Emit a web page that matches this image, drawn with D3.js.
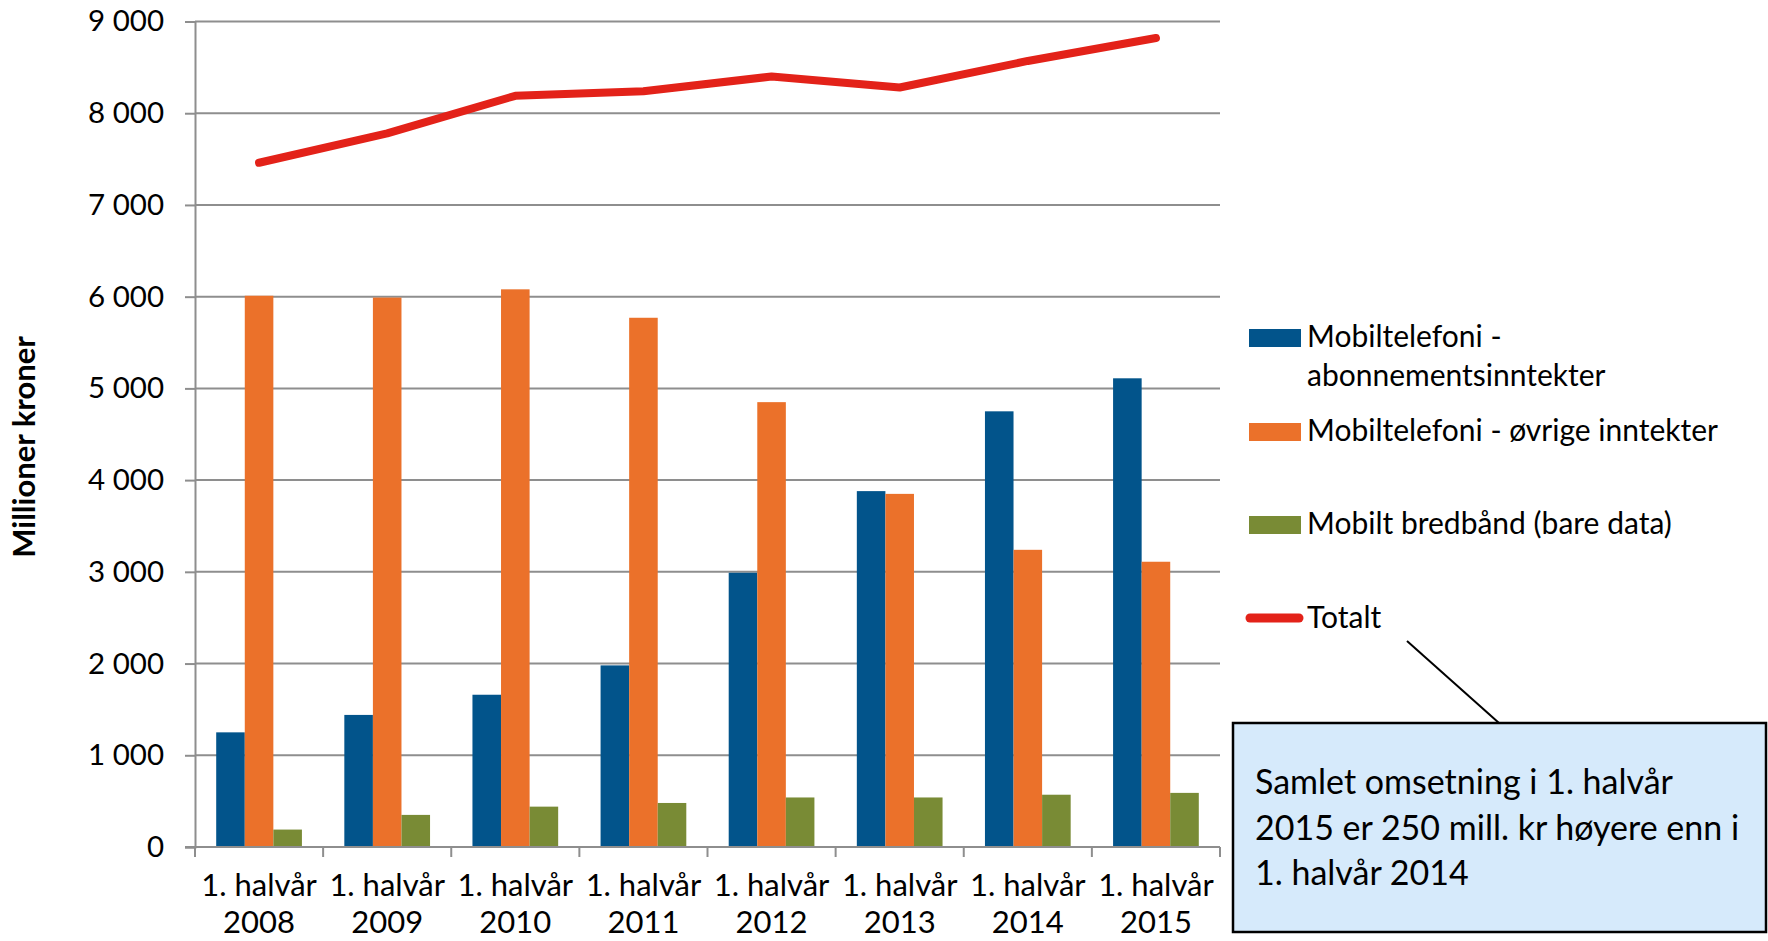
<!DOCTYPE html>
<html>
<head>
<meta charset="utf-8">
<script src="https://cdn.jsdelivr.net/npm/d3@7"></script>
<style>
  body { margin: 0; background: #fff; }
  svg text { font-family: Lato, "Open Sans", sans-serif; fill: #000; }
</style>
</head>
<body>
<svg id="chart" width="1768" height="941"></svg>
<script>
// ---- data ----
const categories = ["2008", "2009", "2010", "2011", "2012", "2013", "2014", "2015"];
const categoryPrefix = "1. halvår";
const abonnement = [1250, 1440, 1660, 1980, 2990, 3880, 4750, 5110];
const ovrige = [6010, 5990, 6080, 5770, 4850, 3850, 3240, 3110];
const bredband = [190, 350, 440, 480, 540, 540, 570, 590];
const totalt = [7460, 7780, 8190, 8240, 8400, 8280, 8570, 8820];
const yTicks = [0, 1000, 2000, 3000, 4000, 5000, 6000, 7000, 8000, 9000];
const barSeriesNames = ["Mobiltelefoni - abonnementsinntekter", "Mobiltelefoni - øvrige inntekter", "Mobilt bredbånd (bare data)"];
const lineSeriesName = "Totalt";
const yTitle = "Millioner kroner";
const calloutLines = ["Samlet omsetning i 1. halvår", "2015 er 250 mill. kr høyere enn i", "1. halvår 2014"];

// ---- layout ----
const colors = ["#02548B", "#EB712A", "#798B35"];
const lineColor = "#E32219";
const gridColor = "#8E8E8E";
const plot = { left: 195, right: 1220, top: 21.5, bottom: 847 };

const svg = d3.select("#chart");

const x = d3.scaleBand().domain(categories).range([plot.left, plot.right]).paddingInner(0).paddingOuter(0);
const xs = d3.scaleBand().domain([0, 1, 2]).range([0, x.bandwidth()]).paddingInner(0).paddingOuter(0.742);
const y = d3.scaleLinear().domain([0, 9000]).range([plot.bottom, plot.top]);

const locale = d3.formatLocale({ decimal: ",", thousands: "\u00a0", grouping: [3], currency: ["", ""] });
const fmt = locale.format(",d");

// gridlines
svg.append("g")
  .selectAll("line")
  .data(yTicks.filter(d => d > 0))
  .join("line")
  .attr("x1", plot.left).attr("x2", plot.right)
  .attr("y1", d => y(d)).attr("y2", d => y(d))
  .attr("stroke", gridColor).attr("stroke-width", 2);

// y axis
const yAxis = svg.append("g")
  .attr("transform", `translate(${plot.left},0)`)
  .call(d3.axisLeft(y).tickValues(yTicks).tickSize(10).tickPadding(21).tickFormat(fmt));
yAxis.select(".domain").attr("stroke", gridColor).attr("stroke-width", 2);
yAxis.selectAll(".tick line").attr("stroke", gridColor).attr("stroke-width", 2);
yAxis.selectAll(".tick text").attr("font-size", 29.5).attr("font-family", "Lato").attr("fill", "#000");

// bars
const barData = [abonnement, ovrige, bredband];
barData.forEach((vals, si) => {
  svg.append("g")
    .selectAll("rect")
    .data(vals)
    .join("rect")
    .attr("x", (d, i) => x(categories[i]) + xs(si))
    .attr("width", xs.bandwidth())
    .attr("y", d => y(d))
    .attr("height", d => y(0) - y(d))
    .attr("fill", colors[si]);
});

// x axis
const xAxisG = svg.append("g").attr("transform", `translate(0,${plot.bottom})`);
xAxisG.append("line")
  .attr("x1", plot.left - 10).attr("x2", plot.right)
  .attr("stroke", gridColor).attr("stroke-width", 2);
const boundaries = categories.map(c => x(c)).concat([x(categories[categories.length - 1]) + x.bandwidth()]);
xAxisG.selectAll("line.tk")
  .data(boundaries)
  .join("line").attr("class", "tk")
  .attr("x1", d => d).attr("x2", d => d)
  .attr("y1", 0).attr("y2", 10)
  .attr("stroke", gridColor).attr("stroke-width", 2);
const lbl = xAxisG.selectAll("text.xl")
  .data(categories)
  .join("text").attr("class", "xl")
  .attr("text-anchor", "middle")
  .attr("font-size", 31);
lbl.append("tspan").attr("x", d => x(d) + x.bandwidth() / 2).attr("y", 49).text(categoryPrefix);
lbl.append("tspan").attr("x", d => x(d) + x.bandwidth() / 2).attr("y", 86).text(d => d);

// total line
const line = d3.line()
  .x((d, i) => x(categories[i]) + x.bandwidth() / 2)
  .y(d => y(d));
svg.append("path")
  .datum(totalt)
  .attr("d", line)
  .attr("fill", "none")
  .attr("stroke", lineColor)
  .attr("stroke-width", 8)
  .attr("stroke-linecap", "round")
  .attr("stroke-linejoin", "round");

// y title
svg.append("text")
  .attr("transform", "translate(35,447) rotate(-90)")
  .attr("text-anchor", "middle")
  .attr("font-size", 31)
  .attr("font-weight", "bold")
  .text(yTitle);

// legend
const lg = svg.append("g");
const legendY = [338, 432, 525];
const legendText = [["Mobiltelefoni -", "abonnementsinntekter"], ["Mobiltelefoni - øvrige inntekter"], ["Mobilt bredbånd (bare data)"]];
barSeriesNames.forEach((name, i) => {
  lg.append("rect").attr("x", 1249).attr("y", legendY[i] - 9).attr("width", 52).attr("height", 18).attr("fill", colors[i]);
  const t = lg.append("text").attr("font-size", 30);
  legendText[i].forEach((ln, j) => {
    t.append("tspan").attr("x", 1307).attr("y", legendY[i] + 9 + j * 39).text(ln);
  });
});
lg.append("line").attr("x1", 1250).attr("x2", 1299).attr("y1", 618).attr("y2", 618)
  .attr("stroke", lineColor).attr("stroke-width", 9).attr("stroke-linecap", "round");
lg.append("text").attr("x", 1307).attr("y", 628).attr("font-size", 30).text(lineSeriesName);

// callout
svg.append("line").attr("x1", 1407).attr("y1", 641).attr("x2", 1499).attr("y2", 723)
  .attr("stroke", "#000").attr("stroke-width", 2);
svg.append("rect").attr("x", 1233).attr("y", 723).attr("width", 533).attr("height", 209)
  .attr("fill", "#D6EAFB").attr("stroke", "#000").attr("stroke-width", 2.5);
const ct = svg.append("text").attr("font-size", 34);
calloutLines.forEach((ln, j) => {
  ct.append("tspan").attr("x", 1255).attr("y", 794 + j * 45.5).text(ln);
});
</script>
</body>
</html>
